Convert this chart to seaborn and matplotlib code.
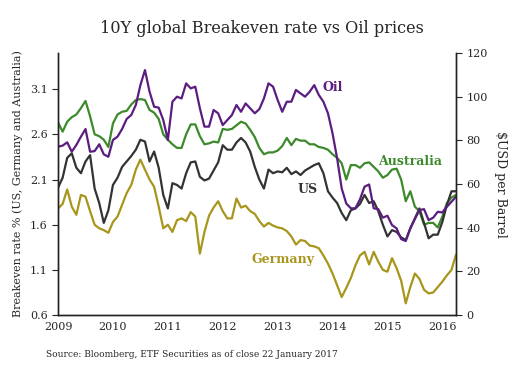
import matplotlib
matplotlib.use("Agg")
import matplotlib.pyplot as plt
import numpy as np
import seaborn as sns

# monthly readings, Jan 2009 .. Apr 2016
us = [2.01, 2.12, 2.34, 2.39, 2.23, 2.17, 2.30, 2.37, 2.00, 1.84, 1.62, 1.76,
      2.04, 2.12, 2.24, 2.30, 2.36, 2.43, 2.54, 2.52, 2.30, 2.41,
      2.23, 1.93, 1.78, 2.06, 2.04, 2.00, 2.17, 2.29, 2.30, 2.13, 2.09, 2.11,
      2.20, 2.29, 2.48, 2.43, 2.43, 2.51, 2.56, 2.51, 2.41, 2.24,
      2.10, 2.00, 2.21, 2.17, 2.19, 2.18, 2.23, 2.16, 2.19, 2.15, 2.20, 2.23,
      2.26, 2.28, 2.17, 1.97, 1.90, 1.84, 1.73, 1.65, 1.76, 1.78,
      1.83, 1.93, 1.84, 1.86, 1.75, 1.60, 1.47, 1.54, 1.52, 1.46, 1.43, 1.56,
      1.67, 1.78, 1.62, 1.45, 1.49, 1.49, 1.63, 1.82, 1.97, 1.97]
germany = [1.78, 1.83, 1.99, 1.80, 1.71, 1.93, 1.91, 1.75, 1.60, 1.56, 1.54, 1.51,
           1.63, 1.69, 1.82, 1.95, 2.04, 2.21, 2.32, 2.21, 2.10, 2.02,
           1.80, 1.56, 1.60, 1.52, 1.65, 1.67, 1.64, 1.74, 1.69, 1.28, 1.52, 1.70,
           1.79, 1.86, 1.75, 1.67, 1.67, 1.89, 1.79, 1.81, 1.75, 1.72,
           1.64, 1.58, 1.62, 1.59, 1.57, 1.56, 1.53, 1.47, 1.38, 1.43, 1.42, 1.37,
           1.36, 1.34, 1.26, 1.17, 1.06, 0.93, 0.80, 0.90, 1.01, 1.15,
           1.26, 1.30, 1.16, 1.30, 1.19, 1.10, 1.08, 1.23, 1.12, 0.98, 0.73, 0.91,
           1.06, 1.00, 0.88, 0.84, 0.85, 0.91, 0.97, 1.04, 1.10, 1.27]
australia = [2.73, 2.63, 2.74, 2.79, 2.82, 2.89, 2.97, 2.80, 2.60, 2.58, 2.54, 2.46,
             2.72, 2.82, 2.85, 2.86, 2.93, 2.98, 2.99, 2.98, 2.87, 2.84,
             2.77, 2.60, 2.54, 2.49, 2.45, 2.45, 2.60, 2.71, 2.71, 2.58, 2.49, 2.50,
             2.52, 2.51, 2.66, 2.65, 2.66, 2.70, 2.74, 2.72, 2.65, 2.57,
             2.45, 2.38, 2.40, 2.40, 2.42, 2.47, 2.56, 2.48, 2.55, 2.53, 2.53, 2.49,
             2.49, 2.46, 2.45, 2.43, 2.38, 2.34, 2.28, 2.10, 2.26, 2.26,
             2.23, 2.28, 2.29, 2.24, 2.19, 2.12, 2.15, 2.21, 2.22, 2.10, 1.86, 1.97,
             1.80, 1.75, 1.60, 1.62, 1.62, 1.57, 1.69, 1.84, 1.90, 1.93]
oil = [77.1, 77.6, 79.1, 74.8, 77.9, 81.7, 85.2, 74.8, 75.1, 78.2, 73.6, 72.5,
       80.2, 81.7, 85.2, 89.8, 91.6, 96.2, 105.3, 112.2, 102.3, 95.4,
       95.0, 89.3, 80.2, 97.7, 100.0, 99.2, 106.1, 103.8, 104.6, 94.7, 86.3, 86.3,
       93.9, 92.4, 87.0, 89.3, 91.6, 96.2, 93.1, 96.9, 94.7, 92.4,
       94.3, 99.2, 106.1, 104.6, 98.5, 93.1, 97.7, 97.7, 103.1, 101.5, 100.0, 102.3,
       105.3, 100.8, 97.7, 92.4, 83.2, 71.8, 58.0, 51.1, 48.9, 48.9,
       53.0, 58.8, 59.8, 48.9, 48.5, 44.6, 45.5, 41.2, 39.7, 34.8, 33.9, 39.7,
       44.0, 48.1, 48.5, 43.5, 44.6, 47.3, 47.0, 49.6, 51.9, 54.2]
years = list(range(2009, 2017))
left_ticks = [0.6, 1.1, 1.6, 2.1, 2.6, 3.1]
right_ticks = [0, 20, 40, 60, 80, 100, 120]

x = 2009 + np.arange(len(us)) / 12

c_us = "#333333"
c_de = "#a8961c"
c_au = "#3d8a2c"
c_oil = "#5b1d80"

sns.set_style("white")
plt.rcParams["font.family"] = ["DejaVu Serif"]

fig = plt.figure(figsize=(5.23, 3.76), dpi=100)
ax = fig.add_axes([0.111, 0.162, 0.761, 0.697])
ax2 = ax.twinx()

sns.lineplot(x=x, y=australia, ax=ax, color=c_au, lw=1.6)
sns.lineplot(x=x, y=us, ax=ax, color=c_us, lw=1.6)
sns.lineplot(x=x, y=germany, ax=ax, color=c_de, lw=1.6)
sns.lineplot(x=x, y=oil, ax=ax2, color=c_oil, lw=1.6)

ax.set_xlim(2009, 2016.25)
ax.set_ylim(0.6, 3.5)
ax2.set_ylim(0, 120)
ax.set_xticks(years)
ax.set_xticklabels([str(y) for y in years])
ax.set_yticks(left_ticks)
ax.set_yticklabels([f"{v:.1f}" for v in left_ticks])
ax2.set_yticks(right_ticks)

for a in (ax, ax2):
    a.spines["top"].set_visible(False)
    for s in ("left", "right", "bottom"):
        a.spines[s].set_color("#222222")
        a.spines[s].set_linewidth(1.0)
ax.tick_params(axis="x", direction="in", length=4, labelsize=8, pad=5)
ax.tick_params(axis="y", direction="out", length=4, labelsize=8, left=True)
ax2.tick_params(axis="y", direction="out", length=4, labelsize=8, right=True)

ax.set_ylabel("Breakeven rate % (US, Germany and Australia)", fontsize=8, labelpad=5)
ax2.set_ylabel("$USD per Barrel", fontsize=9, rotation=270, labelpad=14)

ax.text(2013.825, 3.12, "Oil", color=c_oil, fontsize=9, fontweight="bold", va="center")
ax.text(2014.83, 2.30, "Australia", color=c_au, fontsize=9, fontweight="bold", va="center")
ax.text(2013.37, 1.99, "US", color=c_us, fontsize=9, fontweight="bold", va="center")
ax.text(2012.53, 1.21, "Germany", color=c_de, fontsize=9, fontweight="bold", va="center")

fig.text(0.5, 0.925, "10Y global Breakeven rate vs Oil prices", ha="center",
         va="center", fontsize=11.6)
fig.text(0.088, 0.058, "Source: Bloomberg, ETF Securities as of close 22 January 2017",
         fontsize=6.5, va="center")

fig.savefig("out.png", dpi=100)
